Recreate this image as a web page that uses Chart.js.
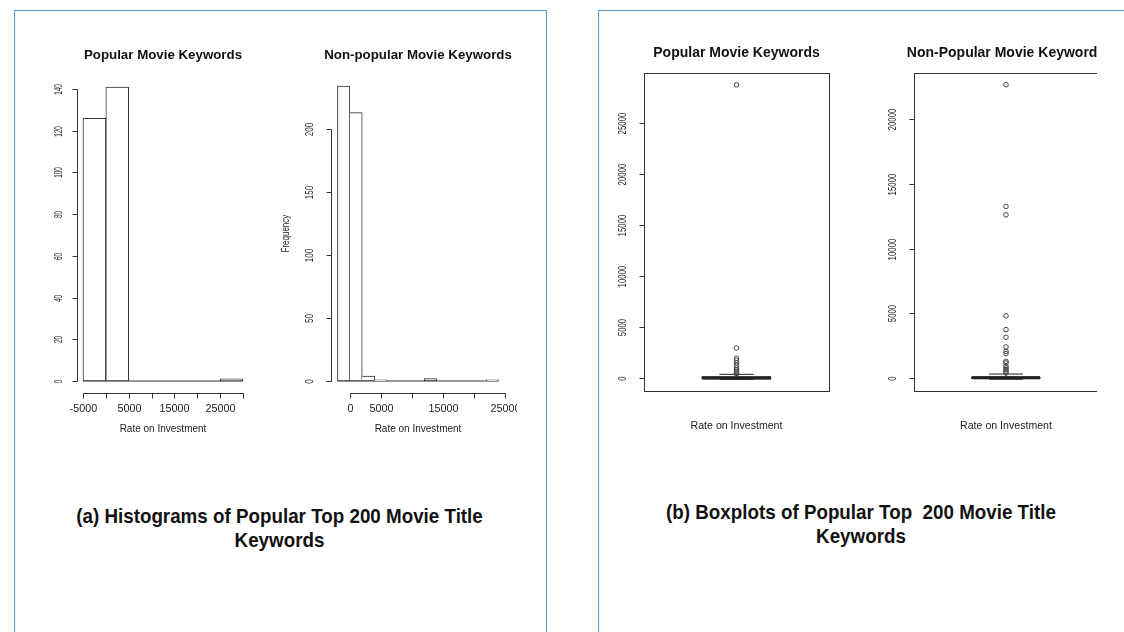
<!DOCTYPE html>
<html>
<head>
<meta charset="utf-8">
<script src="https://cdn.jsdelivr.net/npm/chart.js@4.4.1/dist/chart.umd.min.js"></script>
<style>
  body { margin: 0; width: 1124px; height: 632px; overflow: hidden; background: #fff; position: relative; }
  .abs { position: absolute; }
  .panel { position: absolute; border: 1px solid #5b9bd5; }
  .cap { position: absolute; text-align: center; font: bold 21px "Liberation Sans", Arial, sans-serif; line-height: 24px; color: #111; white-space: pre; transform: scaleX(0.895); transform-origin: center; }
</style>
</head>
<body>
<div class="panel" style="left:14px; top:10px; width:531px; height:700px;"></div>
<div class="panel" style="left:598px; top:10px; width:700px; height:700px;"></div>

<canvas id="histPop" class="abs" width="294" height="410" style="left:16px; top:40px;"></canvas>
<div class="abs" style="left:268px; top:40px; width:249px; height:410px; overflow:hidden;">
  <canvas id="histNon" width="300" height="410"></canvas>
</div>
<canvas id="boxPop" class="abs" width="261" height="410" style="left:606px; top:40px;"></canvas>
<div class="abs" style="left:876px; top:40px; width:221px; height:410px; overflow:hidden;">
  <canvas id="boxNon" width="260" height="410"></canvas>
</div>

<div class="cap" style="left:14px; top:504px; width:531px;">(a) Histograms of Popular Top 200 Movie Title
Keywords</div>
<div class="cap" style="left:598px; top:500px; width:526px;">(b) Boxplots of Popular Top  200 Movie Title
Keywords</div>

<script>
// histogram bins (Rate on Investment) and counts
const popBreaks = [-5000, 0, 5000, 10000, 15000, 20000, 25000, 30000];
const popCounts = [126, 141, 0, 0, 0, 0, 1];
const nonBreaks = [-2000, 0, 2000, 4000, 6000, 8000, 10000, 12000, 14000, 16000, 18000, 20000, 22000, 24000];
const nonCounts = [234, 213, 4, 1, 0, 0, 0, 2, 0, 0, 0, 0, 1];

// axis ticks
const popXTicks = [-5000, 0, 5000, 10000, 15000, 20000, 25000, 30000];
const popXLabels = ["-5000", "", "5000", "", "15000", "", "25000", ""];
const popYTicks = [0, 20, 40, 60, 80, 100, 120, 140];
const nonXTicks = [0, 5000, 10000, 15000, 20000, 25000];
const nonXLabels = ["0", "5000", "", "15000", "", "25000"];
const nonYTicks = [0, 50, 100, 150, 200];

// boxplots: [lower whisker, q1, median, q3, upper whisker] + outliers
const boxPopStats = [-100, -60, 20, 140, 380];
const boxPopOutliers = [28700, 2950, 1950, 1750, 1500, 1250, 1000, 800, 650, 500, 420];
const boxNonStats = [-100, -50, 10, 80, 300];
const boxNonOutliers = [22650, 13250, 12600, 4800, 3730, 3140, 2390, 2050, 1880, 1280, 1160, 900, 770, 640, 510, 390];
const boxPopYTicks = [0, 5000, 10000, 15000, 20000, 25000];
const boxNonYTicks = [0, 5000, 10000, 15000, 20000];

const FONT = '"Liberation Sans", Arial, sans-serif';
const INK = "#333";
const CANVAS_TOP = 40;

// R style axes: line only from first to last tick, rotated y labels
const rAxes = {
  id: "rAxes",
  afterDraw(chart, _args, o) {
    if (!o || !o.yTicks) return;
    const { ctx, chartArea: a } = chart;
    const sx = chart.scales.x, sy = chart.scales.y;
    ctx.save();
    ctx.strokeStyle = INK;
    ctx.fillStyle = "#222";
    ctx.lineWidth = 1;
    if (o.frame) {
      ctx.strokeRect(Math.round(a.left) + 0.5, Math.round(a.top) + 0.5,
        Math.round(a.right - a.left), Math.round(a.bottom - a.top));
    }
    if (o.xTicks) {
      const yb = Math.round(a.bottom) + 0.5;
      const px = o.xTicks.map(v => Math.round(sx.getPixelForValue(v)) + 0.5);
      ctx.beginPath();
      ctx.moveTo(px[0], yb);
      ctx.lineTo(px[px.length - 1], yb);
      px.forEach(p => { ctx.moveTo(p, yb); ctx.lineTo(p, yb + 5); });
      ctx.stroke();
      ctx.font = o.xSize + "px " + FONT;
      ctx.textAlign = "center";
      ctx.textBaseline = "middle";
      o.xLabels.forEach((t, i) => { if (t) ctx.fillText(t, px[i], a.bottom + o.xGap); });
    }
    const xl = Math.round(a.left) + 0.5;
    const py = o.yTicks.map(v => Math.round(sy.getPixelForValue(v)) + 0.5);
    ctx.beginPath();
    ctx.moveTo(xl, py[0]);
    ctx.lineTo(xl, py[py.length - 1]);
    py.forEach(p => { ctx.moveTo(xl, p); ctx.lineTo(xl - 5, p); });
    ctx.stroke();
    const rot = (text, x, y, size, squash) => {
      ctx.save();
      ctx.translate(x, y);
      ctx.rotate(-Math.PI / 2);
      ctx.scale(squash, 1);
      ctx.font = size + "px " + FONT;
      ctx.textAlign = "center";
      ctx.textBaseline = "middle";
      ctx.fillText(text, 0, 0);
      ctx.restore();
    };
    o.yTicks.forEach((v, i) => rot(String(v), a.left - o.yGap, py[i], o.ySize, o.squash));
    if (o.yTitle) rot(o.yTitle, a.left - o.yTitleGap, (a.top + a.bottom) / 2, 10, o.squash);
    ctx.font = o.titleSize + "px " + FONT;
    ctx.textAlign = "center";
    ctx.textBaseline = "middle";
    ctx.fillText("Rate on Investment", (a.left + a.right) / 2, a.bottom + o.titleGap);
    ctx.restore();
  }
};

function titleOpts(text, size, titleY, areaTop) {
  const top = titleY - CANVAS_TOP - 0.6 * size;
  return {
    display: true, text: text, color: "#111",
    font: { family: FONT, size: size, weight: "bold" },
    padding: { top: top, bottom: areaTop - CANVAS_TOP - top - 1.2 * size }
  };
}

// invisible y scales that reserve the side margins, so the title keeps the full canvas width
function sideScales(area, canvasW, yMin, yMax) {
  const hidden = { grid: { display: false }, border: { display: false }, ticks: { display: false } };
  return {
    y: Object.assign({ display: true, min: yMin, max: yMax, afterFit: s => { s.width = area.l; } }, hidden),
    yPad: Object.assign({ type: "linear", axis: "y", position: "right", display: true, afterFit: s => { s.width = canvasW - area.r; } }, hidden)
  };
}

function histogram(id, breaks, counts, area, canvasW, title, titleSize, axes) {
  const span = breaks[breaks.length - 1] - breaks[0];
  const maxC = Math.max(...counts);
  const bins = counts.map((c, i) => ({ x: (breaks[i] + breaks[i + 1]) / 2, y: c }));
  new Chart(document.getElementById(id), {
    type: "bar",
    data: {
      datasets: [{
        type: "bar",
        data: bins,
        backgroundColor: "#fff",
        borderColor: INK,
        borderWidth: 1,
        barPercentage: 1,
        categoryPercentage: 1,
        borderSkipped: c => (c.dataIndex > 0 && counts[c.dataIndex - 1] >= counts[c.dataIndex]) ? "left" : false
      }, {
        type: "line",
        data: [{ x: breaks[0], y: 0 }, { x: breaks[breaks.length - 1], y: 0 }],
        borderColor: INK,
        borderWidth: 1,
        pointRadius: 0
      }]
    },
    options: {
      responsive: false,
      animation: false,
      layout: { padding: { left: 0, right: 0, top: 0, bottom: 410 - (area.b - CANVAS_TOP) } },
      plugins: {
        legend: { display: false },
        tooltip: { enabled: false },
        title: titleOpts(title, titleSize, 55, area.t),
        rAxes: axes
      },
      scales: Object.assign({
        x: { type: "linear", display: false, offset: false, min: breaks[0] - 0.04 * span, max: breaks[breaks.length - 1] + 0.04 * span }
      }, sideScales(area, canvasW, -0.04 * maxC, 1.04 * maxC))
    },
    plugins: [rAxes]
  });
}

function boxplot(id, stats, outliers, area, canvasW, title, titleSize, yTicks) {
  const [lo, q1, med, q3, hi] = stats;
  const all = stats.concat(outliers);
  const yMin = Math.min(...all), yMax = Math.max(...all);
  const pad = 0.04 * (yMax - yMin);
  const bw = 0.185, cw = 0.092;
  const seg = (pts, width, dash) => ({
    type: "line", data: pts, borderColor: "#222", borderWidth: width,
    borderDash: dash || [], pointRadius: 0, showLine: true
  });
  new Chart(document.getElementById(id), {
    type: "scatter",
    data: {
      datasets: [
        {
          data: outliers.map(v => ({ x: 1, y: v })),
          pointRadius: 2.3, pointStyle: "circle",
          backgroundColor: "rgba(0,0,0,0)", borderColor: "#444", borderWidth: 1
        },
        seg([{ x: 1, y: q3 }, { x: 1, y: hi }], 1, [3, 3]),
        seg([{ x: 1, y: q1 }, { x: 1, y: lo }], 1, [3, 3]),
        seg([{ x: 1 - cw, y: hi }, { x: 1 + cw, y: hi }], 1),
        seg([{ x: 1 - cw, y: lo }, { x: 1 + cw, y: lo }], 1),
        seg([{ x: 1 - bw, y: q1 }, { x: 1 + bw, y: q1 }, { x: 1 + bw, y: q3 }, { x: 1 - bw, y: q3 }, { x: 1 - bw, y: q1 }], 1),
        seg([{ x: 1 - bw, y: med }, { x: 1 + bw, y: med }], 3)
      ]
    },
    options: {
      responsive: false,
      animation: false,
      layout: { padding: { left: 0, right: 0, top: 0, bottom: 410 - (area.b - CANVAS_TOP) } },
      plugins: {
        legend: { display: false },
        tooltip: { enabled: false },
        title: titleOpts(title, titleSize, 53.3, area.t),
        rAxes: { frame: true, yTicks: yTicks, yGap: 21, ySize: 10.6, squash: 0.74, titleSize: 10.6, titleGap: 35 }
      },
      scales: Object.assign({
        x: { type: "linear", display: false, min: 0.5, max: 1.5 }
      }, sideScales(area, canvasW, yMin - pad, yMax + pad))
    },
    plugins: [rAxes]
  });
}

histogram("histPop", popBreaks, popCounts, { l: 60.6, r: 233.4, t: 75.2, b: 392.8 }, 294,
  "Popular Movie Keywords", 13.3,
  { xTicks: popXTicks, xLabels: popXLabels, xSize: 10.8, xGap: 16, yTicks: popYTicks, yGap: 17, ySize: 10, squash: 0.64, titleSize: 10, titleGap: 36 });

histogram("histNon", nonBreaks, nonCounts, { l: 63, r: 237, t: 74.4, b: 392.8 }, 300,
  "Non-popular Movie Keywords", 13.3,
  { xTicks: nonXTicks, xLabels: nonXLabels, xSize: 10.8, xGap: 16, yTicks: nonYTicks, yGap: 21, ySize: 10, squash: 0.8, yTitle: "Frequency", yTitleGap: 45, titleSize: 10, titleGap: 36 });

boxplot("boxPop", boxPopStats, boxPopOutliers, { l: 38, r: 223, t: 73, b: 391 }, 261,
  "Popular Movie Keywords", 14, boxPopYTicks);

boxplot("boxNon", boxNonStats, boxNonOutliers, { l: 38, r: 222, t: 73, b: 391 }, 260,
  "Non-Popular Movie Keywords", 14, boxNonYTicks);
</script>
</body>
</html>
